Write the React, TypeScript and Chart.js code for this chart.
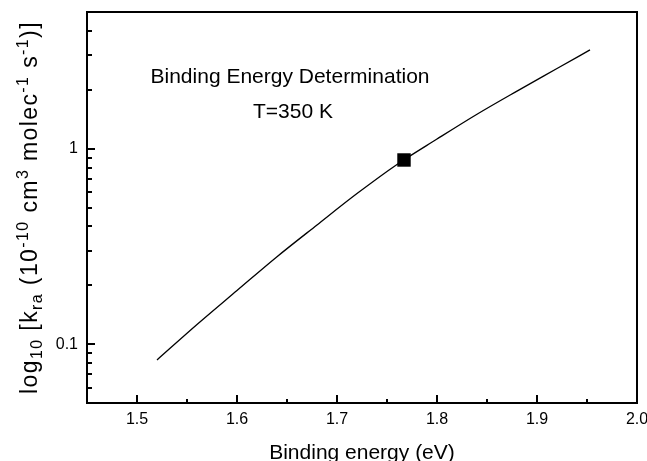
import React, { useEffect, useRef } from "react";
import { Chart, registerables } from "chart.js";

Chart.register(...registerables);

// ---- data ----
const curveEnergy = [1.52, 1.56, 1.6, 1.64, 1.68, 1.72, 1.76, 1.8, 1.84, 1.88, 1.92, 1.953];
const curveRate = [0.083, 0.126, 0.188, 0.28, 0.407, 0.589, 0.83, 1.12, 1.5, 1.97, 2.57, 3.2];
const markerEnergy = [1.767];
const markerRate = [0.875];

const xMajorTicks = [1.5, 1.6, 1.7, 1.8, 1.9, 2.0];
const xMinorTicks = [1.55, 1.65, 1.75, 1.85, 1.95];
const yMajorTicks = [0.1, 1];
const yMinorTicks = [0.06, 0.07, 0.08, 0.09, 0.2, 0.3, 0.4, 0.5, 0.6, 0.7, 0.8, 0.9, 2, 3, 4];

const annotationLines = ["Binding Energy Determination", "T=350 K"];
const xTitle = "Binding energy (eV)";
// s: 0 normal, -1 subscript, 1 superscript
const yTitleParts = [
  { t: "log", s: 0 },
  { t: "10", s: -1 },
  { t: " [k", s: 0 },
  { t: "ra", s: -1 },
  { t: " (10", s: 0 },
  { t: "-10", s: 1 },
  { t: " cm", s: 0 },
  { t: "3", s: 1 },
  { t: " molec", s: 0 },
  { t: "-1", s: 1 },
  { t: " s", s: 0 },
  { t: "-1", s: 1 },
  { t: ")]", s: 0 },
];

const FONT = "'Liberation Sans', Arial, Helvetica, sans-serif";

const decorPlugin = {
  id: "decor",
  afterDraw(chart: any) {
    const { ctx, chartArea: ca, scales } = chart;
    const x = scales.x;
    const y = scales.y;
    ctx.save();
    ctx.strokeStyle = "#000";
    ctx.fillStyle = "#000";

    // frame
    ctx.lineWidth = 2;
    ctx.strokeRect(ca.left, ca.top, ca.right - ca.left, ca.bottom - ca.top);

    // inward ticks
    const vline = (px: number, len: number) => {
      ctx.beginPath();
      ctx.moveTo(px, ca.bottom);
      ctx.lineTo(px, ca.bottom - len);
      ctx.stroke();
    };
    const hline = (py: number, len: number) => {
      ctx.beginPath();
      ctx.moveTo(ca.left, py);
      ctx.lineTo(ca.left + len, py);
      ctx.stroke();
    };
    xMajorTicks.forEach((v) => vline(Math.round(x.getPixelForValue(v)), 8));
    xMinorTicks.forEach((v) => vline(Math.round(x.getPixelForValue(v)), 4));
    yMajorTicks.forEach((v) => hline(Math.round(y.getPixelForValue(v)), 8));
    yMinorTicks.forEach((v) => hline(Math.round(y.getPixelForValue(v)), 5));

    // annotation
    ctx.font = `21px ${FONT}`;
    ctx.textAlign = "center";
    ctx.textBaseline = "alphabetic";
    const ax = x.getPixelForValue(1.653);
    ctx.fillText(annotationLines[0], ax, ca.top + 71);
    ctx.fillText(annotationLines[1], ax + 3, ca.top + 106);

    // x title
    ctx.font = `21px ${FONT}`;
    ctx.fillText(xTitle, (ca.left + ca.right) / 2, chart.height - 2);

    // y title (rotated, with sub/superscripts)
    const mainSize = 23;
    const smallSize = 16;
    ctx.save();
    ctx.translate(37, (ca.top + ca.bottom) / 2);
    ctx.rotate(-Math.PI / 2);
    ctx.textAlign = "left";
    (ctx as any).letterSpacing = "1.4px";
    let total = 0;
    const widths = yTitleParts.map((p) => {
      ctx.font = `${p.s === 0 ? mainSize : smallSize}px ${FONT}`;
      const w = ctx.measureText(p.t).width;
      total += w;
      return w;
    });
    let pos = -total / 2;
    yTitleParts.forEach((p, i) => {
      ctx.font = `${p.s === 0 ? mainSize : smallSize}px ${FONT}`;
      const dy = p.s === -1 ? 5 : p.s === 1 ? -9 : 0;
      ctx.fillText(p.t, pos, dy);
      pos += widths[i];
    });
    ctx.restore();

    ctx.restore();
  },
};

export default function App() {
  const ref = useRef<HTMLCanvasElement>(null);

  useEffect(() => {
    const canvas = ref.current;
    if (!canvas) return;
    const chart = new Chart(canvas, {
      type: "scatter",
      data: {
        datasets: [
          {
            data: curveEnergy.map((e, i) => ({ x: e, y: curveRate[i] })),
            showLine: true,
            borderColor: "#000",
            borderWidth: 1.3,
            pointRadius: 0,
            cubicInterpolationMode: "monotone",
            fill: false,
          } as any,
          {
            data: markerEnergy.map((e, i) => ({ x: e, y: markerRate[i] })),
            showLine: false,
            pointStyle: "rect",
            pointRadius: 9.5,
            backgroundColor: "#000",
            borderColor: "#000",
            borderWidth: 0,
          } as any,
        ],
      },
      options: {
        responsive: false,
        animation: false,
        devicePixelRatio: 1,
        layout: { padding: { top: 12, right: 10, left: 0, bottom: 0 } },
        plugins: { legend: { display: false }, tooltip: { enabled: false } },
        scales: {
          x: {
            type: "linear",
            min: 1.45,
            max: 2.0,
            grid: { display: false, drawTicks: false },
            border: { display: false },
            afterBuildTicks: (s: any) => {
              s.ticks = xMajorTicks.map((v) => ({ value: v }));
            },
            afterFit: (s: any) => {
              s.height = 58;
              s.paddingLeft = 0;
              s.paddingRight = 0;
            },
            ticks: {
              color: "#000",
              font: { size: 16, family: FONT },
              padding: 7,
              maxRotation: 0,
              autoSkip: false,
              callback: (v: any) => Number(v).toFixed(1),
            },
          },
          y: {
            type: "logarithmic",
            min: 0.05,
            max: 5,
            grid: { display: false, drawTicks: false },
            border: { display: false },
            afterBuildTicks: (s: any) => {
              s.ticks = yMajorTicks.map((v) => ({ value: v }));
            },
            afterFit: (s: any) => {
              s.width = 87;
              s.paddingTop = 0;
              s.paddingBottom = 0;
            },
            ticks: {
              color: "#000",
              font: { size: 16, family: FONT },
              padding: 9,
              autoSkip: false,
              callback: (v: any) => String(v),
            },
          },
        },
      } as any,
      plugins: [decorPlugin],
    });
    return () => chart.destroy();
  }, []);

  return (
    <div style={{ position: "absolute", left: 0, top: 0, width: 647, height: 461, background: "#fff" }}>
      <canvas ref={ref} width={647} height={461} />
    </div>
  );
}
